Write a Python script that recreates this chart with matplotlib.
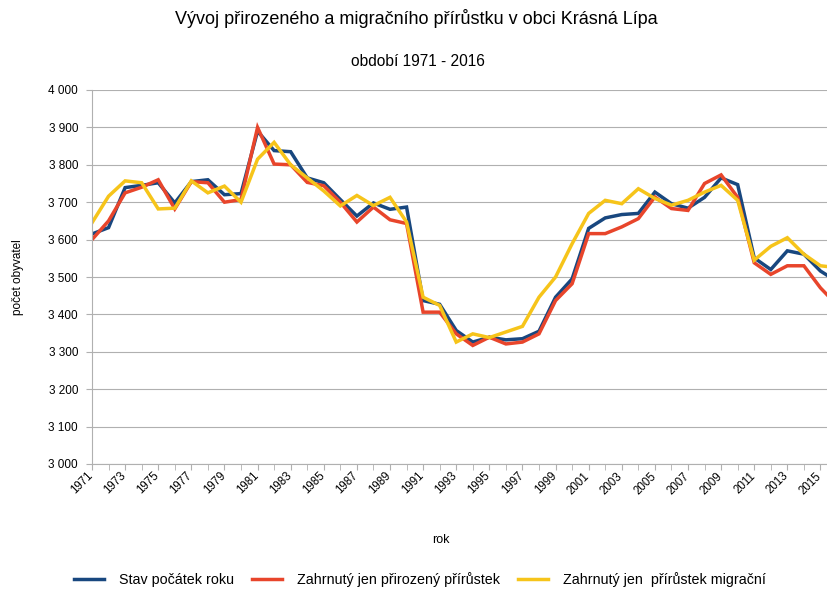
import matplotlib
matplotlib.use("Agg")
import matplotlib.pyplot as plt
import matplotlib.transforms as mtransforms
from matplotlib.ticker import FuncFormatter, MultipleLocator

plt.rcParams['font.family'] = ['Liberation Sans', 'DejaVu Sans']

years = list(range(1971, 2017))

stav = [3615, 3632, 3739, 3745, 3752, 3698, 3755, 3760, 3720, 3723,
        3890, 3838, 3835, 3765, 3752, 3707, 3663, 3698, 3681, 3687,
        3437, 3427, 3357, 3326, 3339, 3332, 3335, 3355, 3446, 3495,
        3630, 3658, 3667, 3670, 3727, 3696, 3684, 3713, 3765, 3747,
        3551, 3520, 3570, 3561, 3516, 3488]

prirozeny = [3600, 3650, 3725, 3740, 3760, 3682, 3755, 3752, 3700, 3707,
             3900, 3802, 3800, 3753, 3744, 3700, 3647, 3687, 3653, 3643,
             3406, 3406, 3348, 3317, 3339, 3321, 3326, 3348, 3437, 3482,
             3616, 3616, 3634, 3656, 3714, 3683, 3678, 3750, 3773, 3713,
             3538, 3507, 3530, 3530, 3471, 3425]

migracni = [3645, 3716, 3757, 3752, 3682, 3684, 3757, 3725, 3743, 3700,
            3815, 3860, 3800, 3765, 3730, 3690, 3718, 3691, 3713, 3647,
            3446, 3424, 3326, 3348, 3338, 3353, 3368, 3446, 3500, 3589,
            3670, 3705, 3696, 3736, 3710, 3692, 3705, 3727, 3745, 3705,
            3545, 3582, 3605, 3561, 3530, 3525]

series_labels = ["Stav počátek roku", "Zahrnutý jen přirozený přírůstek",
                 "Zahrnutý jen  přírůstek migrační"]
colors = ['#18477f', '#e8452b', '#f6c41a']

W, H = 827, 589
fig = plt.figure(figsize=(W / 100, H / 100), dpi=100)
ax = fig.add_axes([92 / W, (H - 464) / H, (837 - 92) / W, 374 / H])

for vals, lab, c in zip([stav, prirozeny, migracni], series_labels, colors):
    ax.plot(years, vals, color=c, lw=2.5, label=lab, solid_joinstyle='miter')

ax.set_xlim(1971, 2016)
ax.set_ylim(3000, 4000)
ax.set_xticks(years[::2])
ax.set_xticklabels([])
# rotated year labels drawn as texts, nudged slightly left of each tick
lbl_tr = ax.get_xaxis_transform() + mtransforms.ScaledTranslation(-5 / 100, -6 / 100, fig.dpi_scale_trans)
for y in years[::2]:
    ax.text(y, 0, str(y), transform=lbl_tr, rotation=45, ha='right', va='top',
            rotation_mode='anchor', fontsize=8.3)
ax.xaxis.set_minor_locator(MultipleLocator(1))
ax.yaxis.set_major_locator(MultipleLocator(100))
ax.yaxis.set_major_formatter(FuncFormatter(lambda v, p: f"{int(v):,}".replace(",", " ")))
ax.tick_params(axis='y', labelsize=8.5, length=4, color='#b0b0b0', pad=6)
ax.tick_params(axis='x', which='both', length=4, color='#b0b0b0', pad=3)
ax.grid(axis='y', color='#b0b0b0', lw=0.8)
ax.set_axisbelow(True)
for s in ['top', 'right']:
    ax.spines[s].set_visible(False)
for s in ['left', 'bottom']:
    ax.spines[s].set_color('#b0b0b0')
    ax.spines[s].set_linewidth(0.8)

fig.text(416 / W, 1 - 18 / H, "Vývoj přirozeného a migračního přírůstku v obci Krásná Lípa",
         ha='center', va='center', fontsize=13)
fig.text(418 / W, 1 - 62 / H, "období 1971 - 2016", ha='center', va='center', fontsize=11.2)
fig.text(18 / W, 1 - 277 / H, "počet obyvatel", rotation=90, ha='center', va='center', fontsize=8.5)
fig.text(441 / W, 1 - 540 / H, "rok", ha='center', va='center', fontsize=9)

handles, labels = ax.get_legend_handles_labels()
fig.legend(handles, labels, ncol=3, loc='center', bbox_to_anchor=(420 / W, 1 - 580 / H),
           frameon=False, fontsize=10.3, handlelength=2.1, handletextpad=1.0,
           columnspacing=1.3)

fig.savefig("out.png", dpi=100)
